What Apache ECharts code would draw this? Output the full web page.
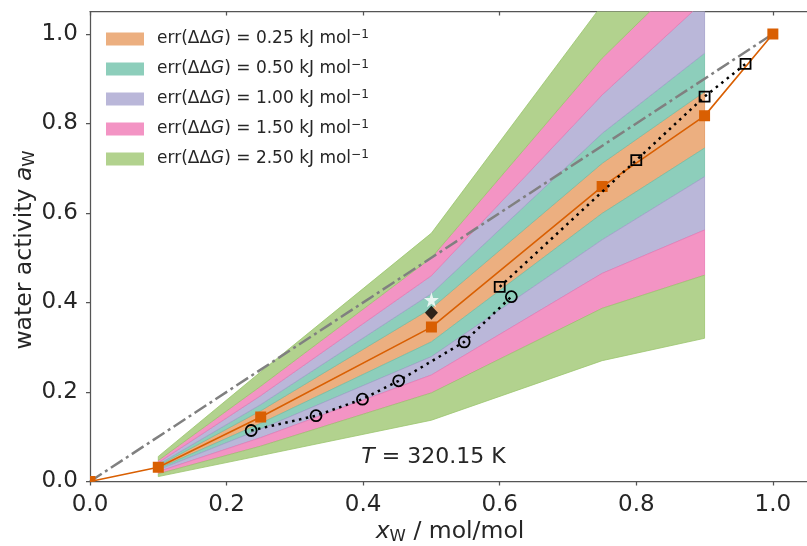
<!DOCTYPE html>
<html>
<head>
<meta charset="utf-8">
<script src="https://cdn.jsdelivr.net/npm/echarts@6/dist/echarts.min.js"></script>
<style>
html, body { margin: 0; padding: 0; background: #fff; }
#chart { width: 807px; height: 546px; }
</style>
</head>
<body>
<div id="chart"></div>
<script>
// mole fractions where the error bands are evaluated
var bandX = [0.1, 0.25, 0.5, 0.75, 0.9];
// band edges (water activity)
var up025 = [0.035, 0.158, 0.387, 0.711, 0.871];
var lo025 = [0.029, 0.130, 0.312, 0.599, 0.745];
var up050 = [0.038, 0.172, 0.420, 0.778, 0.957];
var lo050 = [0.026, 0.117, 0.279, 0.540, 0.681];
var up100 = [0.042, 0.192, 0.460, 0.864, 1.075];
var lo100 = [0.022, 0.098, 0.238, 0.465, 0.562];
var up150 = [0.047, 0.213, 0.500, 0.946, 1.170];
var lo150 = [0.017, 0.079, 0.198, 0.387, 0.461];
var up250 = [0.056, 0.245, 0.555, 1.065, 1.350];
var lo250 = [0.011, 0.058, 0.137, 0.270, 0.320];

var errNames = ['0.25', '0.50', '1.00', '1.50', '2.50'];
var bandColors = ['#ecaf80', '#8dcebb', '#bab7d9', '#f394c4', '#b2d28e'];
var edgeColors = ['#e3965c', '#73bfa8', '#a39fcc', '#ea7ab4', '#9cc56f'];

// computed activity (orange squares)
var calcX = [0, 0.1, 0.25, 0.5, 0.75, 0.9, 1.0];
var calcY = [0, 0.032, 0.144, 0.345, 0.659, 0.817, 1.0];
// experimental data, open squares
var expSqX = [0.6, 0.8, 0.9, 0.96];
var expSqY = [0.435, 0.718, 0.86, 0.933];
// experimental data, open circles
var expCirX = [0.236, 0.331, 0.399, 0.452, 0.548, 0.617];
var expCirY = [0.114, 0.147, 0.184, 0.225, 0.312, 0.413];
// single points at x = 0.5
var diamondPt = [0.5, 0.377];
var starPt = [0.5, 0.406];
// ideal solution
var idealX = [0, 1];
var idealY = [0, 1];

var xTicks = [0, 0.2, 0.4, 0.6, 0.8, 1.0];
var yTicks = [0, 0.2, 0.4, 0.6, 0.8, 1.0];

function pairs(xs, ys) {
    return xs.map(function (x, i) { return [x, ys[i]]; });
}

// regions: [upper edge, lower edge] pairs for each err level
var regions = [
    [[up025, lo025]],
    [[up050, up025], [lo025, lo050]],
    [[up100, up050], [lo050, lo100]],
    [[up150, up100], [lo100, lo150]],
    [[up250, up150], [lo150, lo250]]
];

var font = 'DejaVu Sans';
var ink = '#262626';

var bandSeries = errNames.map(function (name, k) {
    return {
        name: name,
        type: 'custom',
        clip: true,
        z: 1,
        silent: true,
        itemStyle: { color: bandColors[k] },
        data: regions[k].map(function (r, j) { return [j]; }),
        renderItem: function (params, api) {
            var r = regions[k][params.dataIndex];
            var top = bandX.map(function (x, i) { return api.coord([x, r[0][i]]); });
            var bot = bandX.map(function (x, i) { return api.coord([x, r[1][i]]); }).reverse();
            return {
                type: 'polygon',
                shape: { points: top.concat(bot) },
                style: { fill: bandColors[k], stroke: edgeColors[k], lineWidth: 0.8 }
            };
        }
    };
});

var nameRich = {
    n: { fontFamily: font, fontSize: 23.5, lineHeight: 26, fill: ink },
    i: { fontFamily: font, fontSize: 23.5, lineHeight: 26, fontStyle: 'italic', fill: ink },
    s: { fontFamily: font, fontSize: 16.5, lineHeight: 14, verticalAlign: 'bottom', fill: ink }
};

var chart = echarts.init(document.getElementById('chart'), null, { renderer: 'canvas' });
chart.setOption({
    animation: false,
    grid: { left: 90, top: 11.6, width: 721.4, height: 469.9, containLabel: false },
    legend: {
        orient: 'vertical',
        left: 106,
        top: 29,
        padding: 0,
        itemWidth: 38,
        itemHeight: 13,
        itemGap: 11.5,
        icon: 'rect',
        selectedMode: false,
        data: errNames,
        formatter: function (name) {
            return '{n|err(ΔΔ}{i|G}{n|) = ' + name + ' kJ mol}{s|−1}';
        },
        textStyle: {
            padding: [0, 0, 0, 8],
            rich: {
                n: { fontFamily: font, fontSize: 17, lineHeight: 20, color: ink },
                i: { fontFamily: font, fontSize: 17, lineHeight: 20, fontStyle: 'italic', color: ink },
                s: { fontFamily: font, fontSize: 12, lineHeight: 11, verticalAlign: 'top', color: ink }
            }
        }
    },
    xAxis: [{
        type: 'value', min: 0, max: 1.05, position: 'bottom',
        axisLine: { onZero: false, lineStyle: { color: '#555', width: 1.25 } },
        axisTick: { length: 4, customValues: xTicks, lineStyle: { color: '#555', width: 1.25 } },
        axisLabel: { customValues: xTicks, margin: 12, fontFamily: font, fontSize: 23, color: ink,
            formatter: function (v) { return v.toFixed(1); } },
        splitLine: { show: false }
    }, {
        type: 'value', min: 0, max: 1.05, position: 'top',
        axisLine: { onZero: false, lineStyle: { color: '#555', width: 1.25 } },
        axisTick: { inside: true, length: 4, customValues: xTicks, lineStyle: { color: '#555', width: 1.25 } },
        axisLabel: { show: false },
        splitLine: { show: false }
    }],
    yAxis: {
        type: 'value', min: 0, max: 1.05,
        axisLine: { show: true, onZero: false, lineStyle: { color: '#555', width: 1.25 } },
        axisTick: { show: true, length: 4, customValues: yTicks, lineStyle: { color: '#555', width: 1.25 } },
        axisLabel: { customValues: yTicks, margin: 12, fontFamily: font, fontSize: 23, color: ink,
            formatter: function (v) { return v.toFixed(1); } },
        splitLine: { show: false }
    },
    graphic: [{
        type: 'text',
        x: 433.5, y: 457,
        z: 100,
        style: {
            text: '{i|T} = 320.15 K',
            textAlign: 'center',
            textVerticalAlign: 'middle',
            rich: {
                n: { fontFamily: font, fontSize: 22, fill: ink },
                i: { fontFamily: font, fontSize: 22, fontStyle: 'italic', fill: ink }
            },
            font: '22px "DejaVu Sans"',
            fill: ink
        }
    }, {
        // x axis title
        type: 'text',
        x: 450, y: 532,
        z: 100,
        style: {
            text: '{i|x}{s|W}{n| / mol/mol}',
            textAlign: 'center',
            textVerticalAlign: 'middle',
            font: '23.5px "DejaVu Sans"',
            fill: ink,
            rich: nameRich
        }
    }, {
        // y axis title
        type: 'text',
        x: 25, y: 250,
        rotation: Math.PI / 2,
        z: 100,
        style: {
            text: '{n|water activity }{i|a}{s|W}',
            textAlign: 'center',
            textVerticalAlign: 'middle',
            font: '23.5px "DejaVu Sans"',
            fill: ink,
            rich: nameRich
        }
    }],
    series: bandSeries.concat([
        {
            name: 'ideal', type: 'line', z: 3, symbol: 'none', silent: true,
            data: pairs(idealX, idealY),
            lineStyle: { color: '#808080', width: 2.5, type: [14, 4, 3, 4] }
        },
        {
            name: 'calc', type: 'line', z: 4, symbol: 'none', silent: true,
            data: pairs(calcX, calcY),
            lineStyle: { color: '#d95f02', width: 1.6 }
        },
        {
            name: 'calcMarks', type: 'custom', z: 5, clip: true, silent: true,
            data: pairs(calcX, calcY),
            encode: { x: 0, y: 1 },
            renderItem: function (params, api) {
                var p = api.coord([api.value(0), api.value(1)]);
                return { type: 'rect', shape: { x: p[0] - 5.5, y: p[1] - 5.5, width: 11, height: 11 },
                    style: { fill: '#d95f02' } };
            }
        },
        {
            name: 'expSq', type: 'line', z: 6, silent: true,
            data: pairs(expSqX, expSqY),
            symbol: 'rect', symbolSize: 10,
            itemStyle: { color: 'rgba(0,0,0,0)', borderColor: '#000', borderWidth: 1.8 },
            lineStyle: { color: '#000', width: 2.5, type: [2.5, 4.5] }
        },
        {
            name: 'expCir', type: 'line', z: 6, silent: true,
            data: pairs(expCirX, expCirY),
            symbol: 'circle', symbolSize: 11,
            itemStyle: { color: 'rgba(0,0,0,0)', borderColor: '#000', borderWidth: 1.8 },
            lineStyle: { color: '#000', width: 2.5, type: [2.5, 4.5] }
        },
        {
            name: 'diamond', type: 'scatter', z: 7, silent: true,
            data: [diamondPt], symbol: 'diamond', symbolSize: [13, 14],
            itemStyle: { color: '#000' }
        },
        {
            name: 'star', type: 'scatter', z: 7, silent: true,
            data: [starPt],
            symbol: 'path://M50,0 L61,35 L98,35 L68,57 L79,91 L50,70 L21,91 L32,57 L2,35 L39,35 Z',
            symbolSize: 15,
            itemStyle: { color: '#fff' }
        }
    ])
});
</script>
</body>
</html>
